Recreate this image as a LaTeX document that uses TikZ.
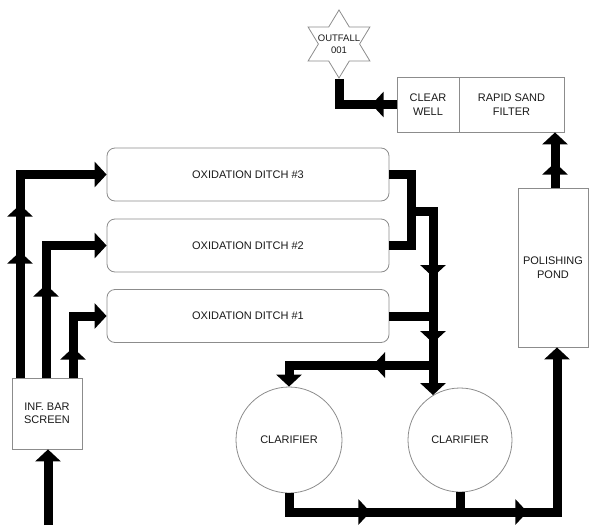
\documentclass[tikz,border=0pt]{standalone}
\usepackage{fontspec}
\setmainfont{Liberation Sans}
\usetikzlibrary{arrows.meta,shapes.geometric,decorations.markings}
\begin{document}
\begin{tikzpicture}[x=1pt,y=-1pt,
  >={Triangle[length=12pt,width=25pt]},
  box/.style={draw=black!45, line width=0.8pt, text=black!90, font=\fontsize{11}{13.5}\selectfont, align=center, inner sep=0pt},
  ditch/.style={box, rounded corners=8pt, minimum width=282pt, minimum height=53pt},
  clar/.style={box, circle, minimum size=106pt},
  pipe/.style={line width=9pt, black},
  tip/.style={-{Triangle[length=12pt,width=25pt]}},
  mk/.style={decoration={markings, mark=at position #1 with {\arrow{>}}}, postaction=decorate},
  mktwo/.style 2 args={decoration={markings, mark=at position #1 with {\arrow{>}}, mark=at position #2 with {\arrow{>}}}, postaction=decorate},
]
\useasboundingbox (0,0) rectangle (589,525);

% nodes
\node[ditch] (d3) at (248,174.5) {OXIDATION DITCH \#3};
\node[ditch] (d2) at (248,245.5) {OXIDATION DITCH \#2};
\node[ditch] (d1) at (248,316) {OXIDATION DITCH \#1};
\node[box, minimum width=70pt, minimum height=71pt] (bar) at (47,413.5) {INF. BAR\\SCREEN};
\node[clar] (c1) at (289,440) {CLARIFIER};
\node[clar, minimum size=104pt] (c2) at (460,440) {CLARIFIER};
\node[box, minimum width=70pt, minimum height=159pt] (pond) at (553,267.5) {POLISHING\\POND};
\node[box, minimum width=62pt, minimum height=55pt] (well) at (428,104.5) {CLEAR\\WELL};
\node[box, minimum width=105pt, minimum height=55pt] (filter) at (511.5,104.5) {RAPID SAND\\FILTER};
\node[box, star, star points=6, star point ratio=1.732, minimum size=68pt, xscale=1.05] (out) at (339,44) {};
\node[font=\fontsize{9.5}{11.5}\selectfont, align=center, text=black!90, inner sep=0pt] (outtxt) at (out.center) {OUTFALL\\001};

% helper coordinates
\coordinate (x1) at (20,0);
\coordinate (x2) at (46,0);
\coordinate (x3) at (73,0);
\coordinate (in) at (48,525);
\coordinate (r1) at (411,0);
\coordinate (r2) at (433,0);
\coordinate (j1) at (411,211);
\coordinate (j2) at (433,211);
\coordinate (b1) at (433,365);
\coordinate (bb) at (557,512);
\coordinate (px) at (555,0);

% influent
\draw[pipe,tip] (in) -- (in |- bar.south);
\draw[pipe,tip,mktwo={126pt}{173pt}] (x1 |- bar.north) |- (d3.west);
\draw[pipe,tip,mk=93pt] (x2 |- bar.north) |- (d2.west);
\draw[pipe,tip,mk=30pt] (x3 |- bar.north) |- (d1.west);

% ditch outlets
\draw[pipe] (d3.east) -| (r1 |- d2.east) -- (d2.east);
\draw[pipe] (d1.east) -- (r2 |- d1.east);
\draw[pipe,tip,mktwo={88pt}{154pt}] (j1) -- (j2) -- (j2 |- c2.121);
\draw[pipe,tip,mk=60pt] (b1) -| (c1.north);

% clarifier outlets
\draw[pipe,tip,mktwo={100pt}{257pt}] (c1.south) |- (bb) -- (bb |- pond.south);
\draw[pipe] (c2.south) -- (c2.south |- bb);

% polishing and outfall
\draw[pipe,tip,mk=25pt] (px |- pond.north) -- (px |- filter.south);
\draw[pipe,mk=25pt] (well.west) -| (out.south);
\end{tikzpicture}
\end{document}
